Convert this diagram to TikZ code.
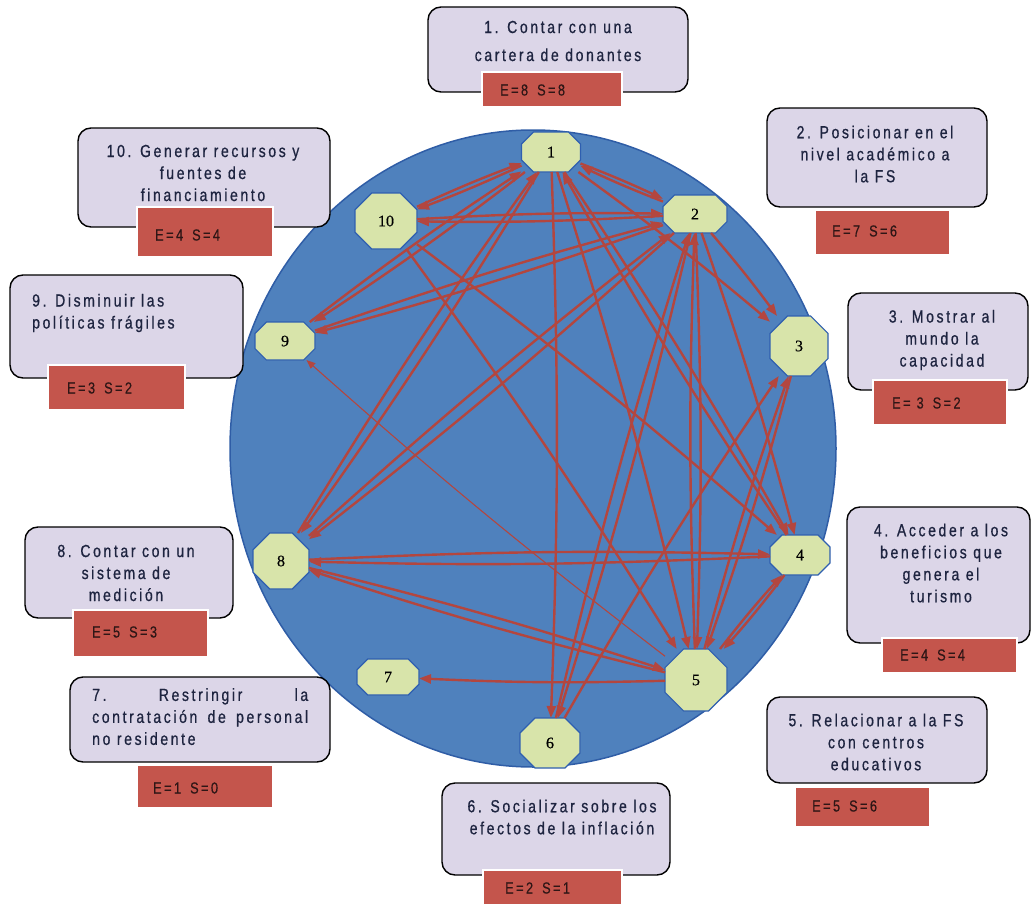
\documentclass[tikz,border=0pt]{standalone}
\usepackage{fontspec}
\setmainfont{Liberation Sans}
\newfontfamily\cardfont{Liberation Sans}[FakeStretch=0.8,LetterSpace=15,FakeBold=0.7]
\newfontfamily\tagfont{Liberation Sans}[FakeStretch=0.8,LetterSpace=15,FakeBold=0.3]
\newfontfamily\numfont{Liberation Serif}[FakeBold=0.5]
\usetikzlibrary{arrows.meta}
\definecolor{discblue}{HTML}{4F81BD}
\definecolor{discedge}{HTML}{2F5DA6}
\definecolor{vtxfill}{HTML}{D8E4AA}
\definecolor{vtxedge}{HTML}{2F5FB0}
\definecolor{linkred}{HTML}{B3463F}
\definecolor{cardfill}{HTML}{DCD6E8}
\definecolor{tagred}{HTML}{C4554C}
\definecolor{cardtext}{HTML}{1E2440}
\definecolor{tagtext}{HTML}{2E1616}
% octagonal vertex: name, x, y, width, height, label
\newcommand\octnode[6]{%
  \node[vtxframe, minimum width=#4pt, minimum height=#5pt] (#1) at (#2,#3) {};
  \pgfmathsetmacro\chamf{0.3*min(#4,#5)}%
  \filldraw[vtxshape]
    ([xshift=\chamf pt]#1.north west) -- ([xshift=-\chamf pt]#1.north east)
    -- ([yshift=-\chamf pt]#1.north east) -- ([yshift=\chamf pt]#1.south east)
    -- ([xshift=-\chamf pt]#1.south east) -- ([xshift=\chamf pt]#1.south west)
    -- ([yshift=\chamf pt]#1.south west) -- ([yshift=-\chamf pt]#1.north west) -- cycle;
  \node[vtxlabel] (#1-label) at (#1) {#6};
}
\begin{document}
\begin{tikzpicture}[x=1pt,y=-1pt,
  card/.style={draw=black, line width=1.4pt, fill=cardfill, rounded corners=13pt},
  tag/.style={draw=white, line width=2pt, fill=tagred},
  cardtxt/.style={text=cardtext, inner sep=0pt, font=\cardfont\fontsize{17.5}{22}\selectfont},
  tagtxt/.style={text=tagtext, inner sep=0pt, anchor=west, font=\tagfont\fontsize{16}{18}\selectfont},
  vtxframe/.style={rectangle, draw=none, inner sep=0pt, outer sep=0pt},
  vtxshape/.style={draw=vtxedge, line width=1.2pt, fill=vtxfill},
  vtxlabel/.style={inner sep=0pt, font=\numfont\fontsize{16}{16}\selectfont, text=black},
  link/.style={draw=linkred, line width=2.4pt, bend left=2,
    -{Triangle[length=12pt,width=9pt]}},
]
\useasboundingbox (0,0) rectangle (1034,907);

% disc behind the graph
\draw[fill=discblue, draw=discedge, line width=1.5pt] (533,448.5) ellipse [x radius=303pt, y radius=318.5pt];

% vertices
\octnode{n1}{551}{152}{59}{40}{1}
\octnode{n10}{386}{221}{62}{56}{10}
\octnode{n2}{695}{214}{64}{38}{2}
\octnode{n9}{285}{341}{60}{38}{9}
\octnode{n3}{799}{346}{58}{60}{3}
\octnode{n8}{281}{561}{56}{56}{8}
\octnode{n4}{800}{555}{60}{40}{4}
\octnode{n7}{388}{677}{62}{36}{7}
\octnode{n5}{696}{680}{62}{62}{5}
\octnode{n6}{550}{743}{60}{50}{6}

% influence links
\foreach \a/\b in {1/10,1/9,1/8,1/3,1/4,1/5,1/6,1/2,
                   2/1,2/10,2/9,2/8,2/3,2/4,2/5,2/6,
                   3/5,
                   4/8,4/5,4/1,
                   5/7,5/8,5/3,5/4,5/2,
                   6/3,6/2,
                   8/1,8/2,8/4,8/5,
                   9/1,9/2,
                   10/1,10/2,10/4,10/5}
  \draw[link] (n\a) to (n\b);
\draw[link, line width=1.1pt, -{Triangle[length=9pt,width=7pt]}] (n5) to (n9);

% 1
\draw[card] (428,7) rectangle (688,92);
\node[cardtxt, align=center] (t1) at (558,41) {1. Contar con una\\[6pt]cartera de donantes};
\draw[tag] (482,72) rectangle (622,107);
\node[tagtxt] (e1) at (500,90) {E=8\hspace{9pt}S=8};

% 2
\draw[card] (767,108) rectangle (987,207);
\node[cardtxt, align=center] (t2) at (875,154) {2. Posicionar en el\\nivel académico a\\la FS};
\draw[tag] (815,210) rectangle (950,255);
\node[tagtxt] (e2) at (832,231) {E=7\hspace{9pt}S=6};

% 10
\draw[card] (78,128) rectangle (330,227);
\node[cardtxt, align=center] (t10) at (203,173) {10. Generar recursos y\\fuentes de\\financiamiento};
\draw[tag] (137,207) rectangle (273,257);
\node[tagtxt] (e10) at (155,235) {E=4\hspace{9pt}S=4};

% 9
\draw[card] (10,275) rectangle (243,378);
\node[cardtxt, align=left, anchor=west] (t9) at (32,313) {9. Disminuir las\\políticas frágiles};
\draw[tag] (48,365) rectangle (185,410);
\node[tagtxt] (e9) at (67,388) {E=3\hspace{9pt}S=2};

% 3
\draw[card] (848,293) rectangle (1028,390);
\node[cardtxt, align=center] (t3) at (942,340) {3. Mostrar al\\mundo la\\capacidad};
\draw[tag] (873,380) rectangle (1007,425);
\node[tagtxt] (e3) at (892,403) {E= 3\hspace{9pt}S=2};

% 4
\draw[card] (847,507) rectangle (1030,643);
\node[cardtxt, align=center] (t4) at (941,563) {4. Acceder a los\\beneficios que\\genera el\\turismo};
\draw[tag] (882,638) rectangle (1017,673);
\node[tagtxt] (e4) at (900,655) {E=4\hspace{9pt}S=4};

% 8
\draw[card] (25,527) rectangle (233,618);
\node[cardtxt, align=center] (t8) at (126,573) {8. Contar con un\\sistema de\\medición};
\draw[tag] (73,610) rectangle (208,657);
\node[tagtxt] (e8) at (92,632) {E=5\hspace{9pt}S=3};

% 7
\draw[card] (70,677) rectangle (330,762);
\node[cardtxt, align=left, anchor=north west] (t7) at (92,688)
  {\makebox[216pt][s]{7.\hfill Restringir\hfill la}\\
   \makebox[216pt][s]{contratación\hfill de\hfill personal}\\
   no residente};
\draw[tag] (137,765) rectangle (273,808);
\node[tagtxt] (e7) at (153,788) {E=1\hspace{9pt}S=0};

% 5
\draw[card] (767,697) rectangle (987,783);
\node[cardtxt, align=center] (t5) at (876,742) {5. Relacionar a la FS\\con centros\\educativos};
\draw[tag] (795,787) rectangle (930,827);
\node[tagtxt] (e5) at (812,806) {E=5\hspace{9pt}S=6};

% 6
\draw[card] (442,783) rectangle (670,875);
\node[cardtxt, align=center] (t6) at (562,817) {6. Socializar sobre los\\efectos de la inflación};
\draw[tag] (483,870) rectangle (622,905);
\node[tagtxt] (e6) at (505,888) {E=2\hspace{9pt}S=1};
\end{tikzpicture}
\end{document}
